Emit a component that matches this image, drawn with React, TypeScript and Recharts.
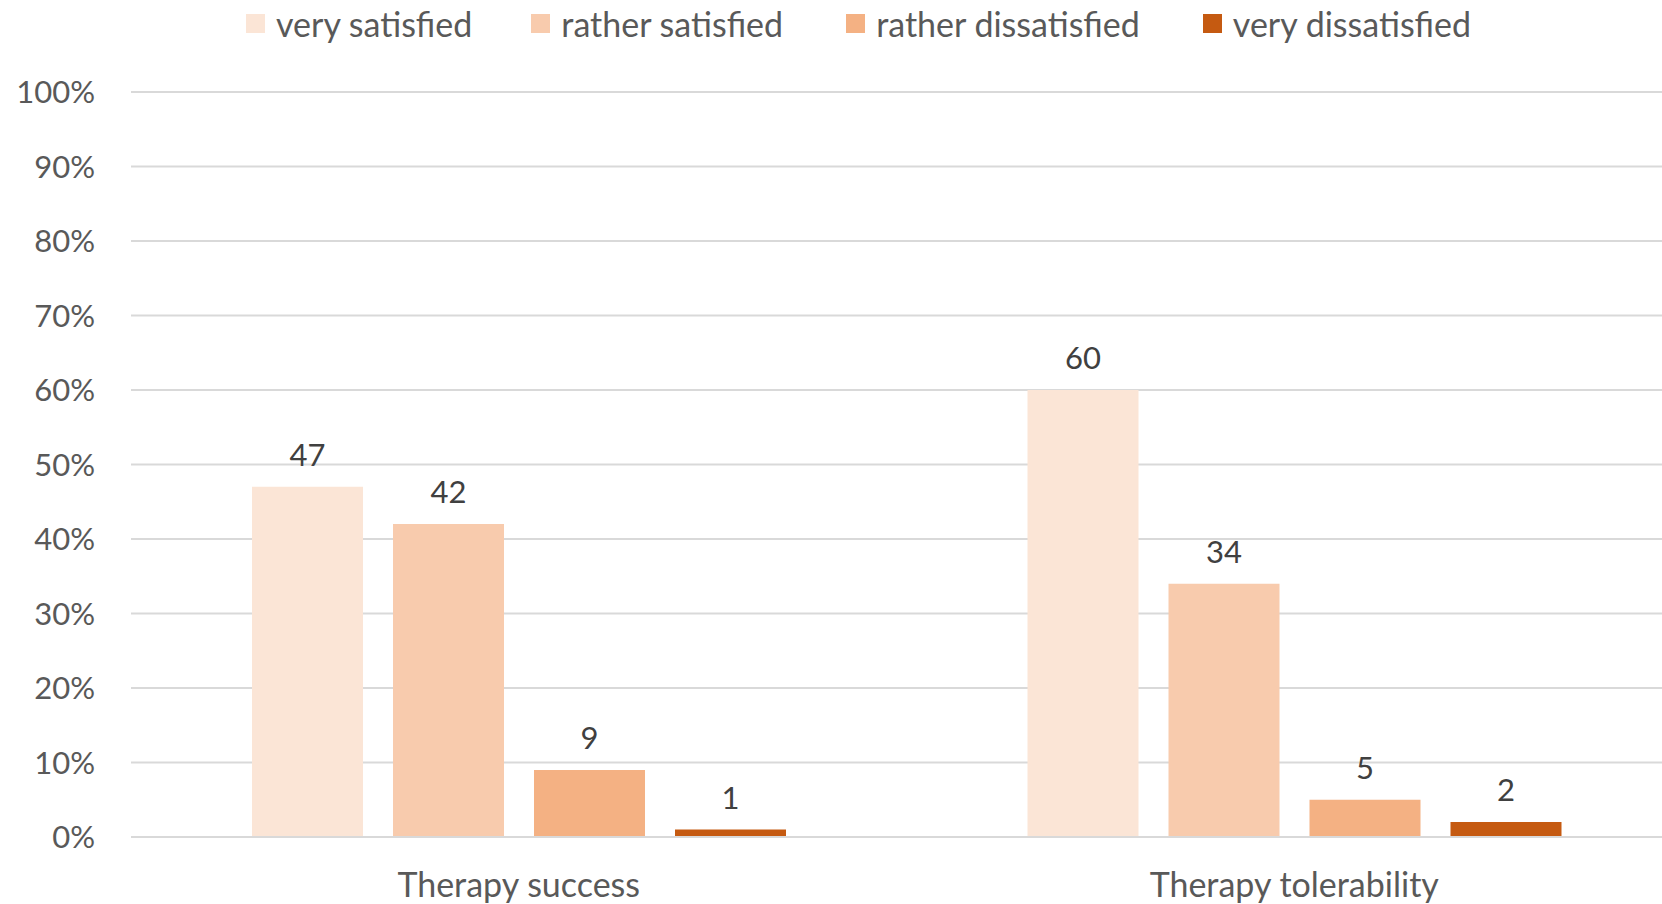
import React from "react";
import { BarChart, Bar, XAxis, YAxis, CartesianGrid, Legend, LabelList } from "recharts";

const categories = ["Therapy success", "Therapy tolerability"];
const seriesNames = ["very satisfied", "rather satisfied", "rather dissatisfied", "very dissatisfied"];
const verySatisfied = [47, 60];
const ratherSatisfied = [42, 34];
const ratherDissatisfied = [9, 5];
const veryDissatisfied = [1, 2];
const yTicks = [0, 10, 20, 30, 40, 50, 60, 70, 80, 90, 100];

const colors = ["#FBE5D6", "#F8CBAD", "#F4B183", "#C55A11"];
const keys = ["vs", "rs", "rd", "vd"];
const legendGaps = [59, 63, 63, 0];

const data = categories.map((c, i) => ({
  name: c,
  vs: verySatisfied[i],
  rs: ratherSatisfied[i],
  rd: ratherDissatisfied[i],
  vd: veryDissatisfied[i],
}));

const FONT = "Lato, 'Open Sans', sans-serif";
const LEGEND_H = 46;

const LegendContent = () => (
  <div
    style={{
      display: "flex",
      alignItems: "center",
      height: LEGEND_H,
      paddingLeft: 246,
      fontFamily: FONT,
      fontSize: 34,
      color: "#595959",
      whiteSpace: "nowrap",
    }}
  >
    {seriesNames.map((n, i) => (
      <div key={n} style={{ display: "flex", alignItems: "center", marginRight: legendGaps[i] }}>
        <div style={{ width: 19, height: 19, background: colors[i], marginRight: 11 }} />
        <span>{n}</span>
      </div>
    ))}
  </div>
);

export default function App() {
  return (
    <div
      style={{
        position: "absolute",
        left: 0,
        top: 0,
        width: 1662,
        height: 904,
        overflow: "hidden",
        background: "#fff",
      }}
    >
      <BarChart
        width={1700}
        height={904}
        data={data}
        margin={{ top: 92 - LEGEND_H, right: 18, bottom: 0, left: 0 }}
        barSize={111}
        barGap={30}
        barCategoryGap="15.5%"
      >
        <CartesianGrid vertical={false} stroke="#D9D9D9" strokeWidth={2} />
        <XAxis
          dataKey="name"
          height={67}
          tickLine={false}
          axisLine={{ stroke: "#D9D9D9", strokeWidth: 2 }}
          tickSize={6}
          tickMargin={30}
          tick={{ fill: "#595959", fontSize: 34, fontFamily: FONT }}
        />
        <YAxis
          width={131}
          domain={[0, 100]}
          ticks={yTicks}
          tickFormatter={(v) => `${v}%`}
          axisLine={false}
          tickLine={false}
          tickSize={6}
          tickMargin={30}
          tick={{ fill: "#595959", fontSize: 31, fontFamily: FONT }}
          interval={0}
        />
        <Legend
          verticalAlign="top"
          align="left"
          wrapperStyle={{ top: 0, left: 0, width: 1662, height: LEGEND_H }}
          content={() => <LegendContent />}
        />
        {keys.map((k, i) => (
          <Bar key={k} dataKey={k} name={seriesNames[i]} fill={colors[i]} isAnimationActive={false}>
            <LabelList
              dataKey={k}
              position="top"
              offset={21}
              fill="#404040"
              fontSize={31}
              fontFamily={FONT}
            />
          </Bar>
        ))}
      </BarChart>
    </div>
  );
}
